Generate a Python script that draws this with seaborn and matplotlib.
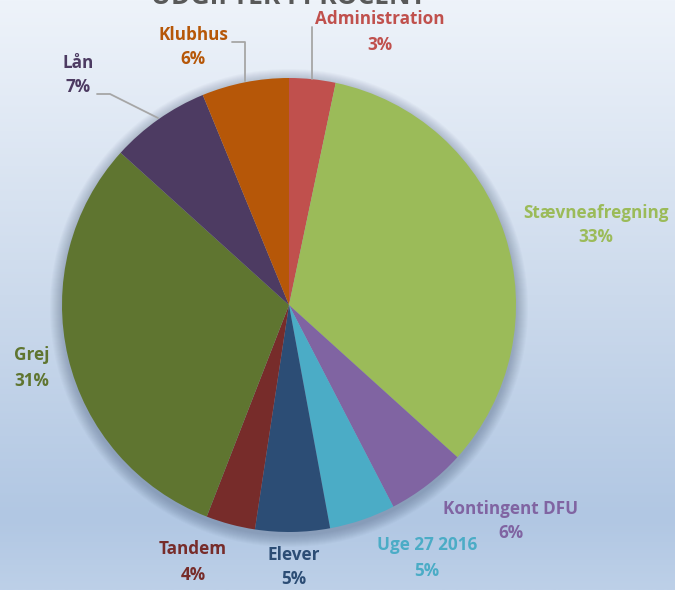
import numpy as np
import matplotlib
matplotlib.use("Agg")
import matplotlib.pyplot as plt
import seaborn as sns
from matplotlib.colors import LinearSegmentedColormap
from matplotlib.patches import Circle

# ---- data ----
categories = ["Administration", "Stævneafregning", "Kontingent DFU", "Uge 27 2016",
              "Elever", "Tandem", "Grej", "Lån", "Klubhus"]
values = [3.3, 33.4, 5.7, 4.7, 5.3, 3.5, 30.8, 7.1, 6.2]
pct_labels = ["3%", "33%", "6%", "5%", "5%", "4%", "31%", "7%", "6%"]
colors = ["#C0504D", "#9BBB59", "#8064A2", "#4BACC6", "#2C4D75",
          "#772C2A", "#5F7530", "#4D3B62", "#B65708"]
title = "UDGIFTER I PROCENT"

sns.set_style("white")
plt.rcParams["font.family"] = ["Open Sans", "DejaVu Sans"]
palette = sns.color_palette(colors)

W, H = 675, 590
fig = plt.figure(figsize=(W / 100, H / 100), dpi=100)

# background gradient (pixel coordinates, y down)
bg = fig.add_axes([0, 0, 1, 1])
bg.axis("off")
cmap = LinearSegmentedColormap.from_list(
    "bg", [(0.0, "#EEF3FA"), (0.5, "#CCDAEC"), (0.88, "#B1C7E3"), (1.0, "#BDD0E8")])
grad = np.linspace(0, 1, 256).reshape(-1, 1)
bg.imshow(grad, aspect="auto", cmap=cmap, extent=[0, W, H, 0], origin="upper")
bg.set_xlim(0, W)
bg.set_ylim(H, 0)

# soft shadow behind the pie
cx, cy, R = 289, 305, 227
for k in range(12):
    bg.add_patch(Circle((cx, cy + 3), R + 12 - k, color="#1c2f4f", alpha=0.025, lw=0))

# pie
ax = fig.add_axes([(cx - R) / W, (H - cy - R) / H, 2 * R / W, 2 * R / H])
ax.pie(values, colors=palette, startangle=90, counterclock=False, radius=1,
       wedgeprops=dict(linewidth=0))
ax.set_xlim(-1, 1)
ax.set_ylim(-1, 1)
ax.axis("off")

# overlay for labels
ov = fig.add_axes([0, 0, 1, 1])
ov.axis("off")
ov.patch.set_alpha(0)
ov.set_xlim(0, W)
ov.set_ylim(H, 0)

label_pos = [(380, 32), (596, 225), (511, 521), (427, 558), (294, 567),
             (193, 562), (32, 368), (78, 75), (193, 47)]
for name, pct, col, (x, y) in zip(categories, pct_labels, palette, label_pos):
    ov.text(x, y - 12.5, name, color=col, ha="center", va="center",
            fontsize=12.3, fontweight="bold")
    ov.text(x, y + 12.5, pct, color=col, ha="center", va="center",
            fontsize=12.3, fontweight="bold")

lc = "#A6A6A6"
ov.plot([312, 312], [27, 79], color=lc, lw=1.3)
ov.plot([232, 245, 245], [42, 42, 81], color=lc, lw=1.3)
ov.plot([97, 110, 158], [94, 94, 118], color=lc, lw=1.3)

ov.text(288, 4, title, color="#595959", ha="center", va="baseline",
        fontsize=19, fontweight="bold")

fig.savefig("out.png", dpi=100)
